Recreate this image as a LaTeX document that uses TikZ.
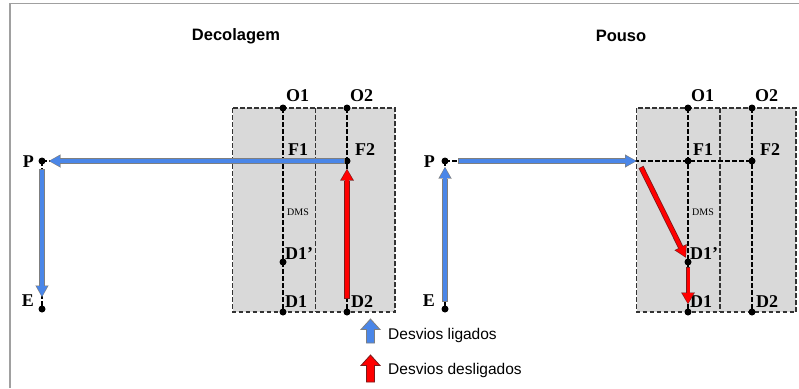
\documentclass[tikz,border=0pt]{standalone}
\usepackage{fontspec}
\setmainfont{Liberation Serif}
\newfontfamily\sansf{Liberation Sans}
\usetikzlibrary{arrows.meta}
\definecolor{runway}{HTML}{D9D9D9}
\definecolor{blueA}{HTML}{4A86E8}
\definecolor{grayO}{HTML}{7F7F7F}
\definecolor{redA}{HTML}{FF0000}
\definecolor{redO}{HTML}{7A1A1A}
\definecolor{frameC}{HTML}{A0A0A0}
\begin{document}
\begin{tikzpicture}[x=1pt,y=-1pt,
  rwy/.style={draw=black!80, dash pattern=on 4.5pt off 2.5pt, line width=1.5pt},
  dline/.style={draw=black, dash pattern=on 4.5pt off 2.5pt, line width=1.5pt},
  dot/.style={circle, fill=black, inner sep=0pt, minimum size=7pt},
  lbl/.style={font=\bfseries\fontsize{18}{18}\selectfont, inner sep=0pt, anchor=base west},
  dmslbl/.style={font=\fontsize{10}{10}\selectfont, inner sep=0pt},
  ttl/.style={font=\sansf\bfseries\fontsize{16.5}{17}\selectfont, inner sep=0pt},
  leg/.style={font=\sansf\fontsize{15.5}{16}\selectfont, inner sep=0pt, anchor=west},
  ligback/.style={draw=grayO, line width=5.2pt, -{Triangle[length=11.5pt,width=13pt,line width=0.01pt]}},
  ligfront/.style={draw=blueA, line width=3.4pt, -{Triangle[length=10pt,width=10.5pt,line width=0.01pt]}},
  desback/.style={draw=redO, line width=5.4pt, -{Triangle[length=11.5pt,width=13.5pt,line width=0.01pt]}},
  desfront/.style={draw=redA, line width=3.8pt, -{Triangle[length=10pt,width=11pt,line width=0.01pt]}}
]
\useasboundingbox (0,0) rectangle (799,388);
% frame
\draw[frameC, line width=1.5pt] (10,388) -- (10,3.5) -- (799,3.5);

% titles
\node[ttl] (t1) at (236,36) {Decolagem};
\node[ttl] (t2) at (621,36) {Pouso};

% ===== Decolagem =====
\fill[runway] (232.5,108) rectangle (395,312);
\draw[rwy] (232.5,108) rectangle (395,312);
\draw[rwy] (315.5,108) -- (315.5,312);
\coordinate (aO1) at (283,108);
\coordinate (aO2) at (347,108);
\coordinate (aF1) at (283,161);
\coordinate (aF2) at (347,161);
\coordinate (aD1p) at (283,262);
\coordinate (aD1) at (283,312);
\coordinate (aD2) at (347,312);
\coordinate (aP) at (42,161);
\coordinate (aE) at (42,309);
\draw[dline] (aO1) -- (aD1);
\draw[dline] (aO2) -- (aD2);
\draw[dline] (aP) -- (aF2);
\draw[dline] (aP) -- (aE);
\foreach \c in {aO1,aO2,aF2,aD1p,aD1,aD2,aP,aE} \node[dot] at (\c) {};
\node[lbl] (laO1) at (286,101) {O1};
\node[lbl] (laO2) at (350,101) {O2};
\node[lbl] (laF1) at (288,155) {F1};
\node[lbl] (laF2) at (355,155) {F2};
\node[dmslbl] (laDMS) at (298,212) {DMS};
\node[lbl] (laD1p) at (285,259) {D1’};
\node[lbl] (laD1) at (285,307) {D1};
\node[lbl] (laD2) at (351,307) {D2};
\node[lbl, anchor=base east] (laP) at (34,167) {P};
\node[lbl, anchor=base east] (laE) at (34,306) {E};
% arrows
\draw[ligback, shorten <=2pt, shorten >=7pt] (aF2) -- (aP);
\draw[ligfront, shorten <=2.8pt, shorten >=7.8pt] (aF2) -- (aP);
\draw[ligback, shorten <=8pt, shorten >=12pt] (aP) -- (aE);
\draw[ligfront, shorten <=8.8pt, shorten >=12.8pt] (aP) -- (aE);
\draw[desback, shorten <=13pt, shorten >=8pt] (aD2) -- (aF2);
\draw[desfront, shorten <=13.8pt, shorten >=8.8pt] (aD2) -- (aF2);

% ===== Pouso =====
\fill[runway] (636.5,108) rectangle (796,312);
\draw[rwy] (636.5,108) rectangle (796,312);
\draw[rwy] (720,108) -- (720,312);
\coordinate (bO1) at (688,108);
\coordinate (bO2) at (752,108);
\coordinate (bF1) at (688,161);
\coordinate (bF2) at (752,161);
\coordinate (bD1p) at (688,262);
\coordinate (bD1) at (688,312);
\coordinate (bD2) at (752,312);
\coordinate (bP) at (445,161);
\coordinate (bE) at (445,309);
\coordinate (bRL) at (636.5,161);
\coordinate (bRs) at (641,167);
\draw[dline] (bO1) -- (bD1);
\draw[dline] (bO2) -- (bD2);
\draw[dline] (bP) -- (bF2);
\draw[dline] (bP) -- (bE);
\foreach \c in {bO1,bO2,bF1,bF2,bD1p,bD1,bD2,bP,bE} \node[dot] at (\c) {};
\node[lbl] (lbO1) at (691,101) {O1};
\node[lbl] (lbO2) at (755,101) {O2};
\node[lbl] (lbF1) at (693,155) {F1};
\node[lbl] (lbF2) at (760,155) {F2};
\node[dmslbl] (lbDMS) at (703,212) {DMS};
\node[lbl] (lbD1p) at (690,259) {D1’};
\node[lbl] (lbD1) at (690,307) {D1};
\node[lbl] (lbD2) at (756,307) {D2};
\node[lbl, anchor=base east] (lbP) at (435,167) {P};
\node[lbl, anchor=base east] (lbE) at (435,306) {E};
% arrows
\draw[ligback, shorten <=7pt, shorten >=6pt] (bE) -- (bP);
\draw[ligfront, shorten <=7.8pt, shorten >=6.8pt] (bE) -- (bP);
\draw[ligback, shorten <=13pt] (bP) -- (bRL);
\draw[ligfront, shorten <=13.8pt, shorten >=0.8pt] (bP) -- (bRL);
\draw[desback, shorten >=5pt] (bRs) -- (bD1p);
\draw[desfront, shorten <=0.8pt, shorten >=5.8pt] (bRs) -- (bD1p);
\draw[desback, line width=4.4pt, shorten <=5pt, shorten >=8pt] (bD1p) -- (bD1);
\draw[desfront, line width=3pt, shorten <=5.8pt, shorten >=8.8pt] (bD1p) -- (bD1);

% ===== legend =====
\draw[grayO, fill=blueA, line width=0.8pt, line join=miter]
  (366.5,343) -- (366.5,329.5) -- (361,329.5) -- (370.5,319) -- (380,329.5) -- (374.5,329.5) -- (374.5,343) -- cycle;
\draw[redO, fill=redA, line width=0.8pt, line join=miter]
  (366.5,382) -- (366.5,365.5) -- (361,365.5) -- (370.5,355) -- (380,365.5) -- (374.5,365.5) -- (374.5,382) -- cycle;
\node[leg] (lg1) at (388,335) {Desvios ligados};
\node[leg] (lg2) at (388,370.5) {Desvios desligados};
\end{tikzpicture}
\end{document}
